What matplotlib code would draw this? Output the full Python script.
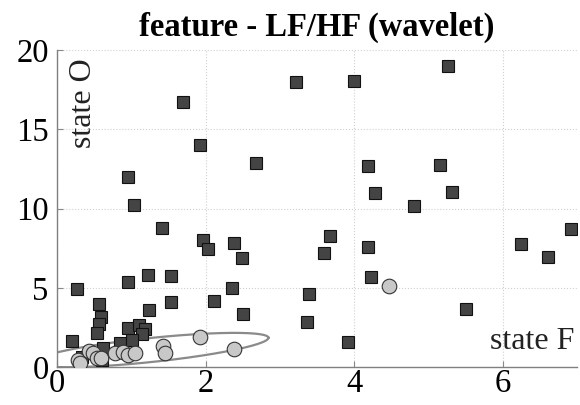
import numpy as np
import matplotlib
matplotlib.use("Agg")
import matplotlib.pyplot as plt

# ---- data ----
sq_x = [0.27, 0.20, 0.57, 0.59, 0.57, 0.54, 0.96, 1.22, 1.53, 1.54, 1.24, 0.96, 1.11, 1.18,
        1.14, 0.85, 1.01, 0.62, 0.34, 0.61, 2.12, 2.36, 2.51, 1.92, 2.68, 0.96, 1.04, 1.41,
        1.96, 2.03, 2.38, 2.49, 1.70, 3.22, 4.00, 5.26, 4.19, 5.16, 4.28, 5.32, 4.81, 3.68,
        3.59, 4.18, 6.24, 6.92, 6.61, 4.23, 3.39, 3.36, 3.92, 5.51]
sq_y = [4.92, 1.64, 3.97, 3.15, 2.71, 2.15, 5.36, 5.80, 5.74, 4.10, 3.60, 2.46, 2.65, 2.40,
        2.08, 1.51, 1.70, 1.20, 0.63, 0.44, 4.16, 4.98, 3.34, 14.0, 12.87, 11.99, 10.22, 8.77,
        8.01, 7.44, 7.82, 6.88, 16.72, 17.98, 18.04, 18.99, 12.68, 12.74, 10.98, 11.04, 10.16, 8.26,
        7.19, 7.57, 7.76, 8.71, 6.94, 5.68, 4.61, 2.84, 1.58, 3.66]

ci_x = [0.28, 0.31, 0.43, 0.49, 0.54, 0.59, 0.78, 0.89, 0.95, 1.05, 1.43, 1.45, 1.93, 2.38, 4.47]
ci_y = [0.44, 0.25, 1.00, 0.88, 0.57, 0.57, 0.88, 0.95, 0.76, 0.88, 1.32, 0.88, 1.89, 1.14, 5.11]

x_ticks = [0, 2, 4, 6]
y_ticks = [0, 5, 10, 15, 20]
title = "feature - LF/HF (wavelet)"

# ellipse parameters (data center, sizes in pixel-like units converted by axis scale)
ell_cx, ell_cy = 1.26, 1.07
ell_a, ell_b, ell_phi = 118.0, 12.0, np.deg2rad(6.0)
px_per_x, px_per_y = 74.0, 15.85

plt.rcParams['font.family'] = ['Liberation Serif', 'DejaVu Serif']

fig = plt.figure(figsize=(5.8, 4.05), dpi=100)

ax = fig.add_axes([57/580, 38/405, 520/580, 317/405])

ax.set_xlim(0, 7)
ax.set_ylim(0, 20)
ax.set_xticks(x_ticks)
ax.set_yticks(y_ticks)
ax.tick_params(direction='in', length=4, color='#888888', labelsize=23.5)
ax.tick_params(axis='y', pad=6)
ax.tick_params(axis='x', pad=1)
ax.grid(True, linestyle=':', color='#d0d0d0', linewidth=0.8)
ax.set_axisbelow(True)
for s in ['top', 'right']:
    ax.spines[s].set_visible(False)
for s in ['left', 'bottom']:
    ax.spines[s].set_color('#808080')
    ax.spines[s].set_linewidth(1.0)

t = np.linspace(0, 2*np.pi, 300)
ex = ell_a*np.cos(t)*np.cos(ell_phi) - ell_b*np.sin(t)*np.sin(ell_phi)
ey = ell_a*np.cos(t)*np.sin(ell_phi) + ell_b*np.sin(t)*np.cos(ell_phi)
ax.plot(ell_cx + ex/px_per_x, ell_cy + ey/px_per_y, color='#8a8a8a', lw=1.6, zorder=2)

ax.plot(sq_x, sq_y, linestyle='none', marker='s', markersize=8.5,
        markerfacecolor='#444444', markeredgecolor='#111111', markeredgewidth=0.8, zorder=3)
ax.plot(ci_x, ci_y, linestyle='none', marker='o', markersize=10.5,
        markerfacecolor='#c8c8c8', markeredgecolor='#333333', markeredgewidth=0.8, zorder=4)

ax.set_title(title, fontsize=23.5, fontweight='bold', pad=10)
ax.text(0.051, 0.975, "state O", transform=ax.transAxes, rotation=90, fontsize=23,
        ha='center', va='top', color='#222222')
ax.text(0.995, 0.08, "state F", transform=ax.transAxes, fontsize=23,
        ha='right', va='center', color='#222222')

fig.savefig("out.png", dpi=100)
